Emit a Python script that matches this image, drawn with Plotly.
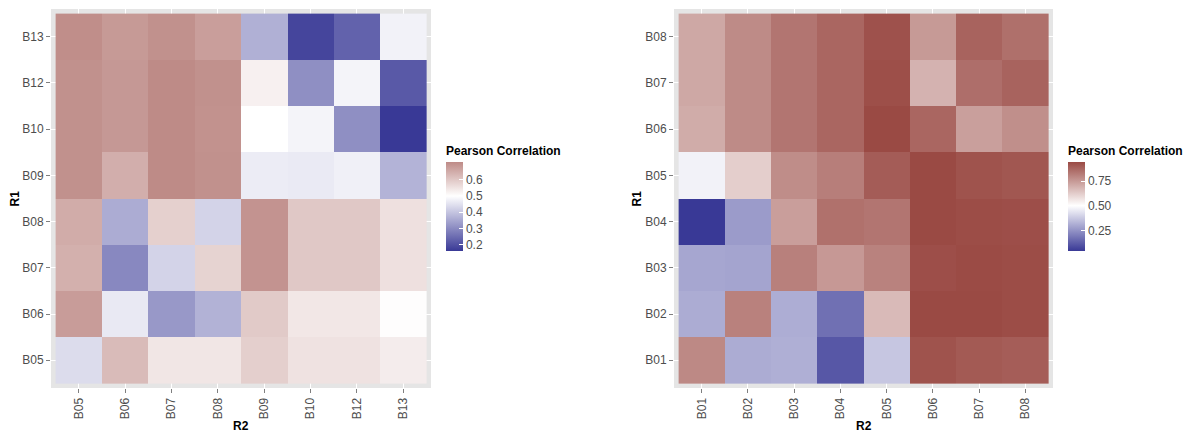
import plotly.graph_objects as go

# ---------------- data ----------------
left_x = ["B05", "B06", "B07", "B08", "B09", "B10", "B12", "B13"]
left_y = ["B05", "B06", "B07", "B08", "B09", "B10", "B12", "B13"]
# rows bottom (B05) to top (B13), columns B05..B13
left_z = [
    [0.440, 0.623, 0.545, 0.545, 0.587, 0.552, 0.552, 0.534],
    [0.679, 0.462, 0.323, 0.368, 0.596, 0.543, 0.543, 0.504],
    [0.643, 0.296, 0.425, 0.580, 0.695, 0.600, 0.600, 0.556],
    [0.650, 0.357, 0.585, 0.425, 0.695, 0.600, 0.600, 0.556],
    [0.700, 0.646, 0.710, 0.700, 0.468, 0.464, 0.474, 0.370],
    [0.700, 0.686, 0.710, 0.697, 0.500, 0.481, 0.307, 0.160],
    [0.700, 0.686, 0.710, 0.700, 0.527, 0.307, 0.481, 0.215],
    [0.704, 0.683, 0.699, 0.675, 0.364, 0.180, 0.230, 0.478],
]
left_ticks = [0.2, 0.3, 0.4, 0.5, 0.6]
left_ticktext = ["0.2", "0.3", "0.4", "0.5", "0.6"]

right_x = ["B01", "B02", "B03", "B04", "B05", "B06", "B07", "B08"]
right_y = ["B01", "B02", "B03", "B04", "B05", "B06", "B07", "B08"]
right_z = [
    [0.789, 0.307, 0.314, 0.110, 0.368, 0.921, 0.904, 0.896],
    [0.307, 0.808, 0.310, 0.168, 0.668, 0.943, 0.943, 0.936],
    [0.293, 0.288, 0.810, 0.752, 0.806, 0.932, 0.940, 0.936],
    [0.040, 0.268, 0.737, 0.848, 0.837, 0.943, 0.936, 0.932],
    [0.470, 0.620, 0.780, 0.815, 0.899, 0.943, 0.921, 0.912],
    [0.704, 0.784, 0.837, 0.874, 0.943, 0.874, 0.735, 0.775],
    [0.713, 0.784, 0.837, 0.874, 0.930, 0.688, 0.854, 0.881],
    [0.713, 0.784, 0.837, 0.874, 0.925, 0.748, 0.881, 0.850],
]
right_ticks = [0.25, 0.5, 0.75]
right_ticktext = ["0.25", "0.50", "0.75"]

legend_title = "Pearson Correlation"
x_title = "R2"
y_title = "R1"

# ---------------- styling ----------------
LOW = (57, 57, 150)
MID = (255, 255, 255)
HIGH = (150, 67, 61)
W, H = 1189, 433
FONT = "Liberation Sans, Arial, sans-serif"
TICK_COL = "#4d4d4d"


def mix(c1, c2, t):
    return "rgb(%d,%d,%d)" % tuple(round(a + (b - a) * t) for a, b in zip(c1, c2))


def scale(zmin, zmax, mid=0.5):
    d = max(mid - zmin, zmax - mid)
    pm = (mid - zmin) / (zmax - zmin)
    return [[0, mix(MID, LOW, (mid - zmin) / d)],
            [pm, "rgb(255,255,255)"],
            [1, mix(MID, HIGH, (zmax - mid) / d)]]


def flat(z):
    return [v for r in z for v in r]


fig = go.Figure()

panels = [
    dict(x=left_x, y=left_y, z=left_z, ticks=left_ticks, tt=left_ticktext,
         px0=51, px1=431, cbx=446, ax="x", ay="y", r1x=15),
    dict(x=right_x, y=right_y, z=right_z, ticks=right_ticks, tt=right_ticktext,
         px0=674, px1=1053, cbx=1068, ax="x2", ay="y2", r1x=637),
]

py0, py1 = 9, 388
for i, p in enumerate(panels):
    zmin, zmax = min(flat(p["z"])), max(flat(p["z"]))
    fig.add_trace(go.Heatmap(
        x=list(range(len(p["x"]))), y=list(range(len(p["y"]))), z=p["z"],
        zmin=zmin, zmax=zmax, colorscale=scale(zmin, zmax),
        xaxis=p["ax"], yaxis=p["ay"], hoverongaps=False,
        colorbar=dict(
            x=p["cbx"] / W, xanchor="left", xref="paper",
            y=1 - 251 / H, yanchor="bottom",
            thickness=17, len=108, lenmode="pixels",
            outlinewidth=0, xpad=0, ypad=0,
            tickvals=p["ticks"], ticktext=p["tt"],
            ticks="inside", ticklen=4, tickcolor="white", tickwidth=1,
            tickfont=dict(family=FONT, size=12, color=TICK_COL),
            title=dict(text="<b>%s</b>" % legend_title, side="top",
                       font=dict(family=FONT, size=12, color="black")),
        ),
    ))
    sfx = "" if i == 0 else "2"
    common = dict(showgrid=True, gridcolor="white", gridwidth=1, zeroline=False,
                  showline=False, ticks="outside", ticklen=4, tickcolor="#7f7f7f",
                  tickfont=dict(family=FONT, size=12, color=TICK_COL),
                  range=[-0.6, 7.6], fixedrange=True)
    fig.update_layout(**{
        "xaxis" + sfx: dict(common, domain=[p["px0"] / W, p["px1"] / W],
                            tickvals=list(range(8)), ticktext=p["x"], tickangle=-90,
                            anchor="y" + sfx),
        "yaxis" + sfx: dict(common, domain=[1 - py1 / H, 1 - py0 / H],
                            tickvals=list(range(8)), ticktext=p["y"],
                            anchor="x" + sfx),
    })
    fig.add_annotation(text="<b>%s</b>" % x_title, xref="paper", yref="paper",
                       x=(p["px0"] + p["px1"]) / 2 / W, y=1 - 426 / H,
                       xanchor="center", yanchor="middle",
                       showarrow=False, font=dict(family=FONT, size=12, color="black"))
    fig.add_annotation(text="<b>%s</b>" % y_title, xref="paper", yref="paper",
                       x=p["r1x"] / W, y=1 - (py0 + py1) / 2 / H, textangle=-90,
                       xanchor="center", yanchor="middle",
                       showarrow=False, font=dict(family=FONT, size=12, color="black"))

fig.update_layout(
    width=W, height=H, margin=dict(l=0, r=0, t=0, b=0),
    paper_bgcolor="white", plot_bgcolor="#e5e5e5", showlegend=False,
)
fig.write_html("out.html")
